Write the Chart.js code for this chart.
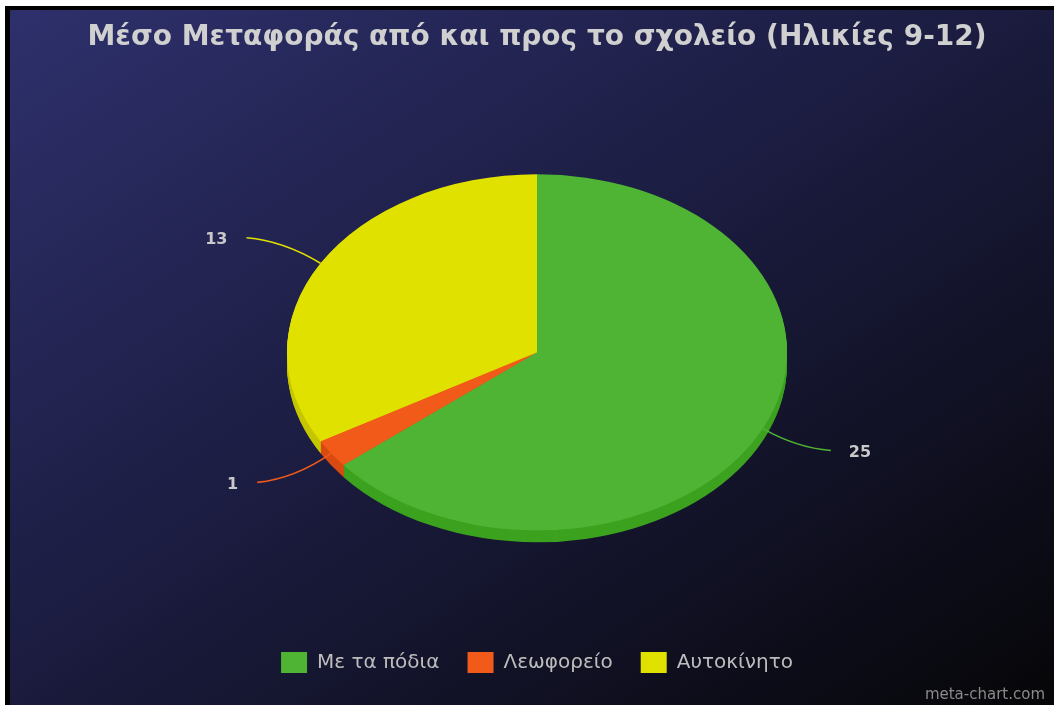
<!DOCTYPE html>
<html>
<head>
<meta charset="utf-8">
<script src="https://cdn.jsdelivr.net/npm/chart.js@4.4.1/dist/chart.umd.min.js"></script>
<style>
  html, body { margin: 0; padding: 0; background: #fff; overflow: hidden; }
  #frame {
    position: absolute; left: 5px; top: 6px;
    width: 1044px; height: 695px;
    border-left: 5px solid #000; border-top: 4px solid #000;
    background: linear-gradient(to bottom right, #2e306c 0%, #1c1d42 45%, #060608 100%);
  }
  #frame canvas { display: block; }
  #mark {
    position: absolute; right: 9px; bottom: 2px;
    font: 15px "DejaVu Sans", sans-serif; color: #8a8a8a;
  }
</style>
</head>
<body>
<div id="frame">
  <canvas id="chart" width="1044" height="695"></canvas>
  <div id="mark">meta-chart.com</div>
</div>
<script>
// chart data
const labels = ['Με τα πόδια', 'Λεωφορείο', 'Αυτοκίνητο'];
const values = [25, 1, 13];
const topColors = ['#4fb434', '#f25a1a', '#e1e100'];
const sideColors = ['#3ca21f', '#d84a10', '#c6c600'];

const TILT = 178 / 250;   // vertical squash of the pie
const DEPTH = 12;         // thickness in px

// squash the pie into an ellipse and paint a darker rim below it
const tiltPlugin = {
    id: 'tilt',
    beforeDatasetsDraw(chart) {
        const ctx = chart.ctx;
        const arcs = chart.getDatasetMeta(0).data;
        if (!arcs.length) return;
        const cx = arcs[0].x, cy = arcs[0].y;
        ctx.save();
        ctx.translate(cx, cy);
        ctx.scale(1, TILT);
        ctx.translate(-cx, -cy);
        for (let d = DEPTH; d >= 1; d--) {
            arcs.forEach((el, i) => {
                ctx.beginPath();
                ctx.moveTo(el.x, el.y + d / TILT);
                ctx.arc(el.x, el.y + d / TILT, el.outerRadius, el.startAngle, el.endAngle);
                ctx.closePath();
                ctx.fillStyle = sideColors[i];
                ctx.fill();
            });
        }
    },
    afterDatasetsDraw(chart) {
        chart.ctx.restore();
        drawLabels(chart);
    }
};

// value labels with curved leader lines
function drawLabels(chart) {
    const ctx = chart.ctx;
    const arcs = chart.getDatasetMeta(0).data;
    ctx.save();
    arcs.forEach((el, i) => {
        const mid = (el.startAngle + el.endAngle) / 2;
        const r = el.outerRadius;
        const right = Math.cos(mid) > 0;
        const ax = el.x + r * Math.cos(mid);
        const ay = el.y + r * TILT * Math.sin(mid);
        const ex = ax + (right ? 68 : -74);
        const ey = ay + 51 * Math.sin(mid);
        const qx = ex + (ax - ex) * 0.5;
        const qy = ey + (ay - ey) * 0.12;
        ctx.beginPath();
        ctx.moveTo(ex, ey);
        ctx.quadraticCurveTo(qx, qy, ax, ay);
        ctx.strokeStyle = topColors[i];
        ctx.lineWidth = 1.6;
        ctx.stroke();
        ctx.fillStyle = '#c9c9c9';
        ctx.font = 'bold 16px "DejaVu Sans", sans-serif';
        ctx.textBaseline = 'middle';
        ctx.textAlign = right ? 'left' : 'right';
        ctx.fillText(String(values[i]), ex + (right ? 18 : -19), ey + 2);
    });
    ctx.restore();
}

new Chart(document.getElementById('chart'), {
    type: 'pie',
    data: {
        labels: labels,
        datasets: [{
            data: values,
            backgroundColor: topColors,
            borderWidth: 0,
            radius: 250,
            clip: false
        }]
    },
    options: {
        responsive: false,
        animation: false,
        events: [],
        layout: { padding: { left: 10, right: 0, top: 0, bottom: 22 } },
        plugins: {
            title: {
                display: true,
                text: 'Μέσο Μεταφοράς από και προς το σχολείο (Ηλικίες 9-12)',
                color: '#d0d0d0',
                font: { family: '"DejaVu Sans"', size: 28, weight: 'bold' },
                padding: { top: 11, bottom: 26 }
            },
            legend: {
                position: 'bottom',
                labels: {
                    color: '#bdbdbd',
                    boxWidth: 26,
                    boxHeight: 21,
                    padding: 28,
                    font: { family: '"DejaVu Sans"', size: 20 }
                }
            },
            tooltip: { enabled: false }
        }
    },
    plugins: [tiltPlugin]
});
</script>
</body>
</html>
